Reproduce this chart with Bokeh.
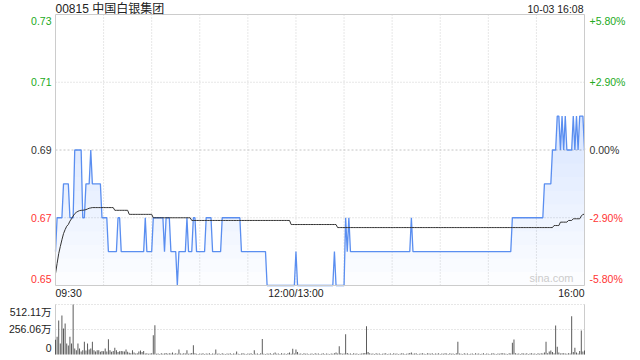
import numpy as np
from bokeh.plotting import figure
from bokeh.models import Range1d, Label
from bokeh.embed import file_html
from bokeh.resources import INLINE

# ---------------- data ----------------
title_text = "00815 中国白银集团"
stamp_text = "10-03 16:08"
prev_close = 0.69
price_ticks = [0.73, 0.71, 0.69, 0.67, 0.65]
price_tick_labels = ["0.73", "0.71", "0.69", "0.67", "0.65"]
pct_tick_labels = ["+5.80%", "+2.90%", "0.00%", "-2.90%", "-5.80%"]
time_ticks = [0, 150, 330]
time_labels = ["09:30", "12:00/13:00", "16:00"]
vol_ticks = [512.11, 256.06, 0]
vol_tick_labels = ["512.11万", "256.06万", "0"]

# last price per minute, as (price, number of minutes)
price_runs = [
    (0.66, 1), (0.67, 4), (0.68, 4), (0.67, 3), (0.69, 5), (0.67, 2), (0.68, 3),
    (0.69, 1), (0.68, 6), (0.67, 4), (0.66, 6), (0.67, 2), (0.66, 15), (0.67, 1),
    (0.66, 4), (0.67, 7), (0.66, 1), (0.67, 3), (0.66, 4), (0.65, 1), (0.66, 5),
    (0.67, 1), (0.66, 3), (0.67, 2), (0.66, 6), (0.67, 4), (0.66, 6), (0.67, 12),
    (0.66, 16), (0.65, 18), (0.66, 1), (0.65, 23), (0.66, 1), (0.65, 6), (0.67, 1),
    (0.66, 1), (0.67, 1), (0.66, 38), (0.67, 1), (0.66, 62), (0.67, 20), (0.68, 5),
    (0.69, 3), (0.70, 2), (0.69, 1), (0.70, 1), (0.69, 1), (0.70, 1), (0.69, 4),
    (0.70, 1), (0.69, 1), (0.70, 1), (0.69, 1), (0.70, 3), (0.69, 1),
]

# average price: first minutes one by one, then runs
avg_head = [0.6535, 0.6565, 0.6594, 0.6615, 0.6635, 0.6653, 0.6665, 0.6675,
            0.6680, 0.6690, 0.6697, 0.6705, 0.6712, 0.6716, 0.6719, 0.6721,
            0.6722, 0.6722, 0.6723, 0.6724, 0.6726, 0.6728, 0.6729]
avg_runs = [
    (0.6730, 14), (0.6722, 9), (0.6710, 15), (0.6700, 24), (0.6692, 62),
    (0.6680, 29), (0.6671, 135), (0.6677, 4), (0.6687, 5), (0.6692, 3),
    (0.6697, 5), (0.6705, 1), (0.6710, 2),
]

# volume per minute (万股)
volume = [
    150, 181, 348, 113, 400, 266, 317, 113, 92, 181,
    113, 512.11, 61, 44, 113, 61, 30, 44, 130, 40,
    113, 50, 61, 130, 44, 30, 44, 44, 28, 35,
    34, 61, 30, 157, 44, 28, 35, 68, 44, 25,
    34, 37, 34, 30, 51, 28, 17, 14, 44, 20,
    10, 12, 30, 40, 25, 35, 10, 12, 8, 10,
    12, 198, 300, 8, 10, 6, 12, 8, 10, 15,
    8, 12, 10, 20, 8, 12, 8, 51, 10, 8,
    12, 10, 44, 8, 10, 15, 96, 12, 8, 6,
    10, 8, 12, 6, 10, 8, 14, 6, 10, 8,
    51, 8, 10, 6, 12, 8, 6, 10, 8, 12,
    6, 10, 8, 30, 8, 6, 10, 12, 8, 6,
    10, 8, 12, 6, 44, 8, 10, 6, 12, 160,
    8, 6, 10, 8, 12, 6, 10, 20, 8, 10,
    6, 12, 8, 10, 6, 14, 20, 8, 60, 10,
    50, 25, 8, 10, 6, 12, 8, 10, 6, 8,
    10, 6, 12, 8, 10, 6, 8, 12, 6, 10,
    8, 6, 10, 8, 12, 20, 10, 85, 12, 8,
    10, 208, 15, 8, 10, 6, 12, 8, 10, 6,
    8, 10, 12, 15, 290, 25, 12, 8, 10, 6,
    12, 8, 10, 6, 8, 10, 12, 6, 8, 10,
    6, 12, 8, 10, 6, 8, 12, 10, 6, 8,
    10, 15, 20, 8, 10, 12, 6, 8, 10, 14,
    8, 6, 12, 10, 8, 14, 6, 10, 8, 12,
    6, 10, 8, 14, 10, 6, 12, 8, 10, 6,
    12, 130, 10, 8, 6, 12, 8, 10, 6, 8,
    10, 6, 12, 8, 10, 6, 8, 12, 6, 10,
    8, 6, 10, 12, 8, 6, 10, 8, 12, 14,
    10, 8, 6, 12, 10, 120, 154, 12, 8, 10,
    6, 12, 10, 8, 14, 6, 10, 12, 8, 10,
    6, 12, 8, 14, 10, 20, 130, 12, 30, 40,
    25, 12, 297, 80, 20, 10, 14, 12, 10, 8,
    12, 10, 392, 25, 70, 20, 10, 35, 246, 30,
    40,
]

# ---------------- derived ----------------
price = np.concatenate([np.full(n, v) for v, n in price_runs])
avg = np.concatenate([np.array(avg_head)] + [np.full(n, v) for v, n in avg_runs])
n = min(len(price), len(avg), len(volume))
price = price[:n]
avg = avg[:n]
vol = np.array(volume[:n], dtype=float)
x = np.arange(n)

W, H = 640, 360
X0, X1 = 0, 330
Y0, Y1 = 0.65, 0.73
VMAX = vol_ticks[0]
# pixel layout of the two panels (canvas coordinates, y from top)
L, R = 55, 584
PT, PB = 14, 285        # price panel top / bottom
VT, VB = 304, 354       # volume panel top / bottom

PX_X = (R - L) / (X1 - X0)
PX_Y = (PB - PT) / (Y1 - Y0)
PX_V = (VB - VT) / VMAX

x_range = Range1d(X0 - L / PX_X, X1 + (W - R) / PX_X)
y_range = Range1d(Y0 - (H - PB) / PX_Y, Y1 + PT / PX_Y)
v_range = Range1d(0 - (H - VB) / PX_V, VMAX + VT / PX_V)

FONT = "Liberation Sans, Noto Sans CJK SC"
FS = "10.5px"
GREEN = "#22aa22"
RED = "#ff3333"
DARK = "#333333"
GRID = "#cfcfcf"
BORDER = "#cccccc"
BLUE = "#5a8ef0"

p = figure(width=W, height=H, title=None,
           x_range=x_range, y_range=y_range,
           x_axis_type=None, y_axis_type=None,
           toolbar_location=None, output_backend="svg",
           min_border=0, min_border_left=0, min_border_right=0,
           min_border_top=0, min_border_bottom=0,
           outline_line_color=None,
           background_fill_color="white", border_fill_color="white")
p.xgrid.visible = False
p.ygrid.visible = False
p.extra_y_ranges = {"vol": v_range}

# ---- price panel grid ----
vgrid = list(range(30, 330, 30))
p.segment(x0=vgrid, y0=[Y0] * len(vgrid), x1=vgrid, y1=[Y1] * len(vgrid),
          line_color=GRID, line_dash="1 2", line_width=1)
hgrid = [0.67, 0.71]
p.segment(x0=[X0] * len(hgrid), y0=hgrid, x1=[X1] * len(hgrid), y1=hgrid,
          line_color=GRID, line_dash="1 2", line_width=1)
p.segment(x0=[X0], y0=[prev_close], x1=[X1], y1=[prev_close],
          line_color="#c4c4c4", line_dash="2 2", line_width=1)

# gradient fill under price line (stacked translucent layers)
levels = np.linspace(Y0, Y1, 21)[:-1]
for lo in levels:
    p.varea(x=x, y1=np.full(n, lo), y2=np.maximum(price, lo),
            fill_color=BLUE, fill_alpha=0.014)

p.line(x, price, line_color=BLUE, line_width=1.3)
p.line(x, avg, line_color="#333333", line_width=1)

# price panel border
p.quad(left=[X0], right=[X1], bottom=[Y0], top=[Y1], fill_color=None,
       line_color=BORDER, line_width=1)

# ---- volume panel ----
vg = [vol_ticks[0], vol_ticks[1]]
p.segment(x0=[X0] * 2, y0=vg, x1=[X1] * 2, y1=vg, y_range_name="vol",
          line_color=GRID, line_dash="1 2", line_width=1)
p.segment(x0=[X0, X1], y0=[0, 0], x1=[X0, X1], y1=[VMAX, VMAX], y_range_name="vol",
          line_color=BORDER, line_width=1)
p.vbar(x=x, top=vol, width=0.6, bottom=0, y_range_name="vol",
       fill_color="#555555", line_color=None)

# ---- texts ----
def lab(xv, yv, text, align, baseline="middle", color="#222222", size=FS, yname="default"):
    p.add_layout(Label(x=xv, y=yv, text=text, text_font=FONT, text_font_size=size,
                       text_color=color, text_align=align, text_baseline=baseline,
                       y_range_name=yname))

# watermark
lab((573 - L) / PX_X, Y0 + 2 / PX_Y, "sina.com", "right", "bottom", "#cccccc", "11px")

# title + timestamp
lab(X0, Y1 + 5.5 / PX_Y, title_text, "left", size="12px")
lab(X1 - 1 / PX_X, Y1 + 5.5 / PX_Y, stamp_text, "right")

# price / percent labels
for tv, tl, pl in zip(price_ticks, price_tick_labels, pct_tick_labels):
    if tv > prev_close + 1e-9:
        col = GREEN
    elif tv < prev_close - 1e-9:
        col = RED
    else:
        col = DARK
    yy = tv
    if tv == Y1:
        yy = Y1 - 6.5 / PX_Y
    elif tv == Y0:
        yy = Y0 + 7 / PX_Y
    lab(X0 - 4 / PX_X, yy, tl, "right", color=col)
    lab(X1 + 5 / PX_X, yy, pl, "left", color=col)

# time labels
for tt, tl, al in zip(time_ticks, time_labels, ["left", "center", "right"]):
    lab(tt, Y0 - 7.5 / PX_Y, tl, al)

# volume labels
for tv, tl in zip(vol_ticks, vol_tick_labels):
    yy = tv
    if tv == VMAX:
        yy = VMAX - 7 / PX_V
    elif tv == 0:
        yy = 6.3 / PX_V
    lab(X0 - 4 / PX_X, yy, tl, "right", yname="vol")

open("out.html", "w").write(file_html(p, INLINE))
